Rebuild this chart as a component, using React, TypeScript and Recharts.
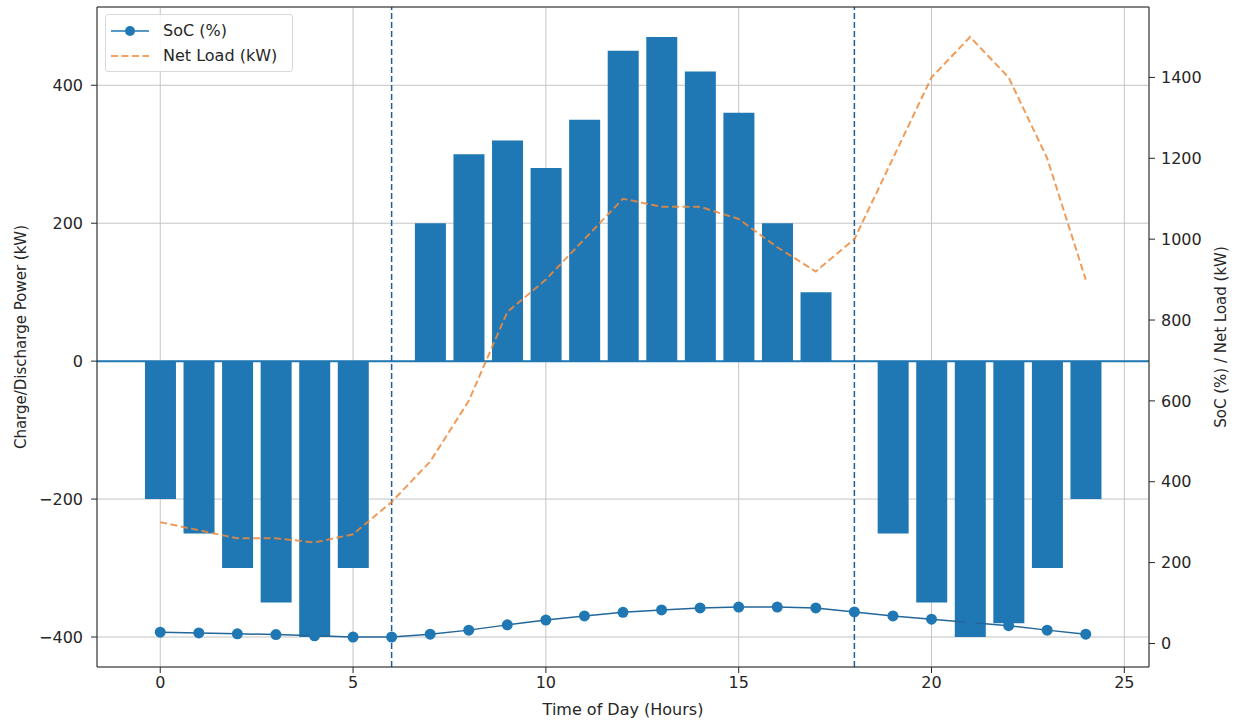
import React from 'react';
import { ComposedChart, Bar, Line, XAxis, YAxis, CartesianGrid, ReferenceLine, Legend } from 'recharts';

const HOURS = [0, 1, 2, 3, 4, 5, 6, 7, 8, 9, 10, 11, 12, 13, 14, 15, 16, 17, 18, 19, 20, 21, 22, 23, 24];
const POWER = [-200, -250, -300, -350, -400, -300, 0, 200, 300, 320, 280, 350, 450, 470, 420, 360, 200, 100, 0, -250, -350, -400, -380, -300, -200];
const SOC = [28, 26, 24, 22, 19, 16, 16, 23, 33, 46, 58, 68, 77, 83, 88, 90, 90, 88, 78, 68, 60, 52, 44, 33, 23];
const NET_LOAD = [300, 280, 260, 260, 250, 270, 350, 450, 600, 820, 900, 1000, 1100, 1080, 1080, 1050, 980, 920, 1000, 1200, 1400, 1500, 1400, 1200, 900];
const PERIOD_MARKS = [6, 18];

const X_TICKS = [0, 5, 10, 15, 20, 25];
const POWER_TICKS = [-400, -200, 0, 200, 400];
const RIGHT_TICKS = [0, 200, 400, 600, 800, 1000, 1200, 1400];

const BLUE = '#1f77b4';
const ORANGE = '#ee8a3c';
const INK = '#262626';
const FONT = '"DejaVu Sans", sans-serif';

const data = HOURS.map((h, i) => ({ hour: h, power: POWER[i], soc: SOC[i], netLoad: NET_LOAD[i] }));

// matplotlib-style 5% padding around the data
function pad(lo: number, hi: number): [number, number] {
  const m = (hi - lo) * 0.05;
  return [lo - m, hi + m];
}
const xDomain = pad(HOURS[0] - 0.4, HOURS[HOURS.length - 1] + 0.4);
const leftDomain = pad(Math.min(...POWER), Math.max(...POWER));
const rightDomain = pad(Math.min(...SOC, ...NET_LOAD), Math.max(...SOC, ...NET_LOAD));

const minus = (v: number) => (v < 0 ? `\u2212${Math.abs(v)}` : `${v}`);

function LegendBox() {
  return (
    <div
      style={{
        width: 188,
        height: 58,
        boxSizing: 'border-box',
        padding: '3px 0 0 5px',
        border: '1px solid #d9d9d9',
        borderRadius: 3,
        background: 'rgba(255,255,255,0.85)',
        fontFamily: FONT,
        fontSize: 16,
        color: INK,
      }}
    >
      <div style={{ display: 'flex', alignItems: 'center', height: 25 }}>
        <svg width={38} height={14} style={{ marginRight: 14 }}>
          <line x1={0} y1={7} x2={38} y2={7} stroke={BLUE} strokeWidth={1.5} />
          <circle cx={19} cy={7} r={5} fill={BLUE} />
        </svg>
        <span>SoC (%)</span>
      </div>
      <div style={{ display: 'flex', alignItems: 'center', height: 25 }}>
        <svg width={38} height={14} style={{ marginRight: 14 }}>
          <line x1={0} y1={7} x2={38} y2={7} stroke={ORANGE} strokeWidth={2} strokeDasharray="7 3.5" opacity={0.8} />
        </svg>
        <span>Net Load (kW)</span>
      </div>
    </div>
  );
}

export default function App() {
  return (
    <div style={{ position: 'absolute', left: 0, top: 0, width: 1236, height: 725, background: '#fff' }}>
      <ComposedChart
        width={1236}
        height={725}
        data={data}
        margin={{ top: 7, right: 0, bottom: 0, left: 0 }}
        style={{ fontFamily: FONT }}
      >
        <CartesianGrid yAxisId="left" stroke="#c4c4c4" strokeWidth={1} />
        <XAxis
          dataKey="hour"
          type="number"
          domain={xDomain}
          allowDataOverflow
          ticks={X_TICKS}
          height={58}
          tickSize={6}
          tickMargin={4}
          stroke={INK}
          tick={{ fill: INK, fontSize: 16 }}
          label={{ value: 'Time of Day (Hours)', position: 'center', dy: 13, fill: INK, fontSize: 16 }}
        />
        <YAxis
          yAxisId="left"
          type="number"
          domain={leftDomain}
          allowDataOverflow
          ticks={POWER_TICKS}
          width={97}
          tickSize={6}
          tickMargin={8}
          stroke={INK}
          tick={{ fill: INK, fontSize: 16 }}
          tickFormatter={minus}
          label={{ value: 'Charge/Discharge Power (kW)', angle: -90, position: 'center', dx: -28, fill: INK, fontSize: 15 }}
        />
        <YAxis
          yAxisId="right"
          orientation="right"
          type="number"
          domain={rightDomain}
          allowDataOverflow
          ticks={RIGHT_TICKS}
          width={87}
          tickSize={6}
          tickMargin={6}
          stroke={INK}
          tick={{ fill: INK, fontSize: 16 }}
          label={{ value: 'SoC (%) / Net Load (kW)', angle: -90, position: 'center', dx: 28, fill: INK, fontSize: 15 }}
        />
        <Line
          yAxisId="right"
          dataKey="soc"
          stroke="#23679a"
          strokeWidth={1.5}
          dot={{ r: 5.5, fill: BLUE, stroke: 'none' }}
          isAnimationActive={false}
        />
        <Bar yAxisId="left" dataKey="power" fill={BLUE} barSize={31} isAnimationActive={false} />
        <ReferenceLine yAxisId="left" y={0} stroke={BLUE} strokeWidth={2} />
        {PERIOD_MARKS.map((h) => (
          <ReferenceLine key={h} yAxisId="left" x={h} stroke="#1f5d94" strokeWidth={1.5} strokeDasharray="6 3" />
        ))}
        <Line
          yAxisId="right"
          dataKey="netLoad"
          stroke={ORANGE}
          strokeOpacity={0.85}
          strokeWidth={2}
          strokeDasharray="7 3.5"
          dot={false}
          isAnimationActive={false}
        />
        {/* top spine */}
        <ReferenceLine yAxisId="left" y={leftDomain[1]} stroke={INK} strokeWidth={1} />
        <Legend
          layout="vertical"
          align="center"
          verticalAlign="middle"
          wrapperStyle={{ left: 105, top: 14, width: 188, height: 58 }}
          content={() => <LegendBox />}
        />
      </ComposedChart>
    </div>
  );
}
